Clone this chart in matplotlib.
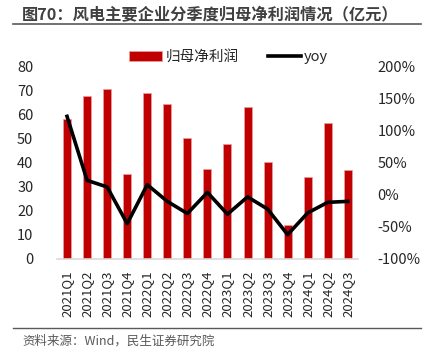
import matplotlib
matplotlib.use("Agg")
import matplotlib.pyplot as plt
from matplotlib.lines import Line2D
from matplotlib.patches import Patch

plt.rcParams['font.family'] = ['Noto Sans CJK SC', 'DejaVu Sans']

quarters = ["2021Q1", "2021Q2", "2021Q3", "2021Q4", "2022Q1", "2022Q2", "2022Q3", "2022Q4",
            "2023Q1", "2023Q2", "2023Q3", "2023Q4", "2024Q1", "2024Q2", "2024Q3"]
profit = [58.3, 67.9, 70.7, 35.4, 69.2, 64.6, 50.3, 37.6, 47.9, 63.5, 40.4, 14.3, 34.0, 56.8, 37.1]
yoy = [122.8, 22.8, 12.5, -44.8, 16.0, -10.0, -29.0, 4.0, -30.0, -3.0, -22.0, -62.0, -28.0, -11.5, -10.0]

left_ticks = [0, 10, 20, 30, 40, 50, 60, 70, 80]
right_ticks = [-100, -50, 0, 50, 100, 150, 200]

fig = plt.figure(figsize=(4.27, 3.56), dpi=100)
ax = fig.add_axes([0.1335, 0.2725, 0.7045, 0.5395])
ax2 = ax.twinx()

x = list(range(len(quarters)))
bar_color = "#C00000"
ax.bar(x, profit, width=0.4, color=bar_color, edgecolor="#E8A0A0", linewidth=0.5, zorder=2)
ax2.plot(x, yoy, color="black", linewidth=2.6, zorder=3)

ax.set_xlim(-0.5, len(quarters) - 0.5)
ax.set_ylim(0, 80)
ax2.set_ylim(-100, 200)
ax.set_yticks(left_ticks)
ax.set_yticklabels([str(t) for t in left_ticks], fontsize=10.5, color="#262626")
ax2.set_yticks(right_ticks)
ax2.set_yticklabels([f"{t}%" for t in right_ticks], fontsize=10.5, color="#262626")
ax.set_xticks(x)
ax.set_xticklabels(quarters, rotation=90, fontsize=9.5, color="#262626")

for a in (ax, ax2):
    for s in a.spines.values():
        s.set_visible(False)
    a.tick_params(length=0)
ax.spines['bottom'].set_visible(True)
ax.spines['bottom'].set_color("#D9D9D9")
ax.spines['bottom'].set_linewidth(1.2)
ax.tick_params(axis='y', pad=17)
ax.tick_params(axis='x', pad=8)
ax2.tick_params(axis='y', pad=14)

handles = [Patch(facecolor=bar_color, edgecolor="#E8A0A0", linewidth=0.5),
           Line2D([0], [0], color="black", linewidth=2.6)]
fig.legend(handles, ["归母净利润", "yoy"], loc="center", bbox_to_anchor=(0.535, 0.84),
           ncol=2, frameon=False, fontsize=10.5, handlelength=2.3, handletextpad=0.2,
           columnspacing=2.0, labelcolor="#262626")

fig.text(0.052, 0.958, "图70：风电主要企业分季度归母净利润情况（亿元）", fontsize=11.7,
         fontweight="bold", color="#404040", ha="left", va="center")
fig.add_artist(Line2D([0.03, 0.985], [0.932, 0.932], color="#595959", linewidth=1.2))
fig.add_artist(Line2D([0.03, 0.985], [0.079, 0.079], color="#595959", linewidth=1.0))
fig.text(0.052, 0.042, "资料来源：Wind，民生证券研究院", fontsize=9, color="#595959",
         ha="left", va="center")

fig.savefig("out.png", dpi=100)
